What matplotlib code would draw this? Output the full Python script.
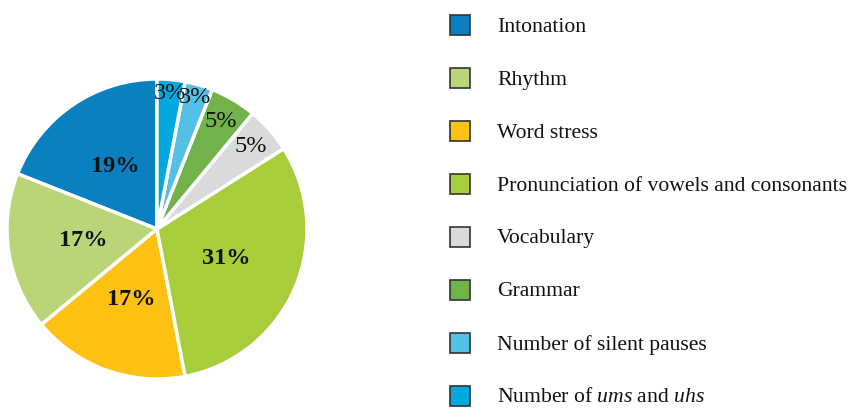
import numpy as np
import matplotlib
matplotlib.use('Agg')
import matplotlib.pyplot as plt
from matplotlib.patches import Rectangle

plt.rcParams['font.family'] = ['Liberation Serif', 'DejaVu Serif']
plt.rcParams['mathtext.fontset'] = 'custom'
plt.rcParams['mathtext.rm'] = 'Liberation Serif'
plt.rcParams['mathtext.it'] = 'Liberation Serif:italic'

categories = ['Intonation', 'Rhythm', 'Word stress',
              'Pronunciation of vowels and consonants', 'Vocabulary',
              'Grammar', 'Number of silent pauses',
              r'Number of $\mathit{ums}$ and $\mathit{uhs}$']
shares = [19, 17, 17, 31, 5, 5, 3, 3]
colors = ['#0A80C0', '#B9D577', '#FDC113', '#A7CD3A', '#D9DADC',
          '#71B24B', '#55C0E6', '#00A8DF']

fig = plt.figure(figsize=(8.52, 4.08), dpi=100)
W, H = 852, 408
cx, cy, r = 157, 229, 150
ax = fig.add_axes([(cx - r) / W, (H - cy - r) / H, 2 * r / W, 2 * r / H])

wedges, _ = ax.pie(shares, colors=colors, startangle=90, counterclock=True,
                   wedgeprops=dict(edgecolor='white', linewidth=2.5))
ax.set_xlim(-1, 1)
ax.set_ylim(-1, 1)
ax.set_aspect('equal')
ax.axis('off')

# percentage labels: inner for big slices, near the rim for small ones
for w, v in zip(wedges, shares):
    mid = np.deg2rad((w.theta1 + w.theta2) / 2)
    if v >= 10:
        d, wt = 0.5, 'bold'
    elif v >= 5:
        d, wt = 0.83, 'normal'
    else:
        d, wt = 0.91, 'normal'
    ax.text(d * np.cos(mid), d * np.sin(mid), f'{v}%', ha='center', va='center',
            fontsize=17.5, fontweight=wt, color='#111111')

# legend on the right
y0, step = 25, 53
for i, (lab, c) in enumerate(zip(categories, colors)):
    y = y0 + i * step
    fig.patches.append(Rectangle(((450) / W, (H - y - 10) / H), 20 / W, 20 / H,
                                 transform=fig.transFigure, facecolor=c,
                                 edgecolor='#333333', linewidth=1.2))
    fig.text(497 / W, (H - y - 2) / H, lab, ha='left', va='center',
             fontsize=15.6, color='#111111')

fig.savefig('out.png', dpi=100)
